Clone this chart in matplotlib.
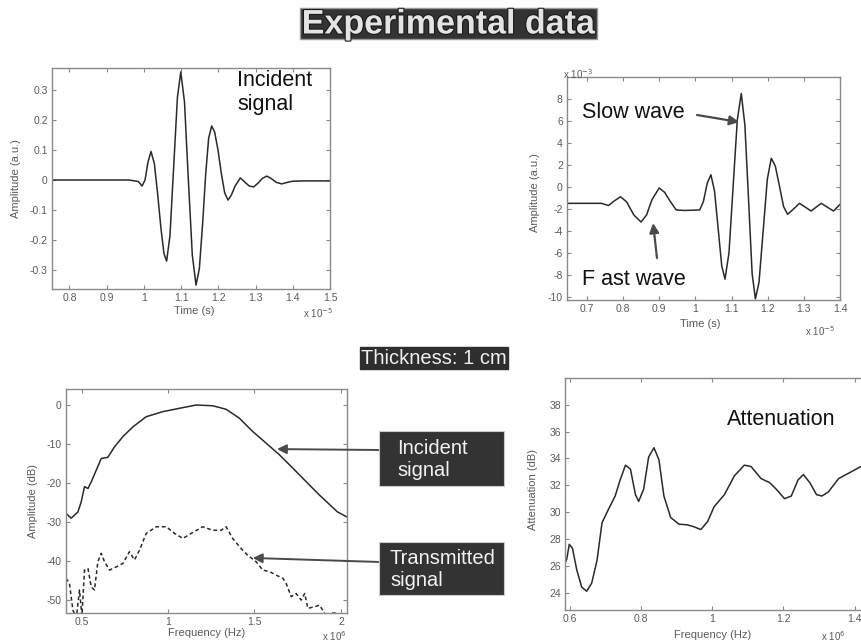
import matplotlib
matplotlib.use('Agg')
import matplotlib.pyplot as plt
import matplotlib.patheffects as pe
from matplotlib.patches import Rectangle
from matplotlib.ticker import FormatStrFormatter

plt.rcParams['font.family'] = ['Liberation Sans', 'DejaVu Sans']
plt.rcParams['axes.unicode_minus'] = False

W, H = 862, 644

# incident pulse (time in 1e-5 s, amplitude a.u.)
inc_t = [0.753, 0.96, 0.985, 0.995, 1.003, 1.011, 1.019, 1.028, 1.037, 1.046, 1.054, 1.061,
         1.07, 1.08, 1.09, 1.099, 1.109, 1.119, 1.13, 1.14, 1.149, 1.158, 1.166, 1.174, 1.182,
         1.19, 1.199, 1.208, 1.217, 1.226, 1.235, 1.245, 1.259, 1.272, 1.283, 1.295, 1.307,
         1.318, 1.33, 1.342, 1.356, 1.37, 1.385, 1.4, 1.43, 1.5]
inc_a = [0.0, 0.0, -0.005, -0.02, 0.0, 0.06, 0.095, 0.055, -0.048, -0.164, -0.246, -0.27,
         -0.185, 0.045, 0.275, 0.36, 0.26, 0.01, -0.25, -0.35, -0.295, -0.14, 0.02, 0.14, 0.18,
         0.16, 0.1, 0.022, -0.043, -0.067, -0.05, -0.02, 0.007, -0.008, -0.02, -0.023, -0.01,
         0.005, 0.013, 0.005, -0.008, -0.013, -0.008, -0.004, -0.003, -0.003]

# transmitted pulse (time in 1e-5 s, amplitude in 1e-3 a.u.)
tr_t = [0.645, 0.74, 0.76, 0.775, 0.793, 0.81, 0.83, 0.85, 0.865, 0.88, 0.90, 0.915, 0.93,
        0.947, 0.97, 1.012, 1.022, 1.033, 1.043, 1.053, 1.063, 1.073, 1.082, 1.093, 1.104,
        1.116, 1.127, 1.137, 1.147, 1.157, 1.166, 1.176, 1.188, 1.199, 1.21, 1.221, 1.233,
        1.244, 1.255, 1.272, 1.288, 1.304, 1.32, 1.334, 1.348, 1.365, 1.382, 1.4]
tr_a = [-1.5, -1.5, -1.7, -1.3, -0.9, -1.37, -2.57, -3.2, -2.56, -1.17, -0.1, -0.5, -1.3,
        -2.1, -2.15, -2.1, -1.36, 0.35, 1.1, -0.37, -3.79, -7.2, -8.4, -6.0, -0.2,
        6.1, 8.5, 5.6, -1.1, -7.9, -10.2, -8.7, -3.8, 0.7, 2.6, 1.9, 0.0,
        -1.8, -2.5, -2.0, -1.5, -1.85, -2.2, -1.85, -1.5, -1.85, -2.2, -1.6]

# spectra (frequency in 1e6 Hz, dB)
spec_f = [0.41, 0.44, 0.479, 0.498, 0.517, 0.537, 0.556, 0.585, 0.614, 0.652, 0.691, 0.739,
          0.797, 0.874, 0.97, 1.066, 1.163, 1.259, 1.336, 1.413, 1.49, 1.568, 1.645, 1.722,
          1.8, 1.876, 1.98, 2.035]
inc_db = [-27.8, -29.0, -27.4, -24.8, -20.9, -21.4, -19.7, -16.7, -13.7, -13.4, -10.7, -8.1,
          -5.6, -3.0, -1.7, -0.85, 0.0, -0.2, -1.1, -3.4, -6.8, -9.8, -12.8, -16.2,
          -19.7, -23.1, -27.4, -28.7]
tx_f = [0.41, 0.43, 0.45, 0.47, 0.488, 0.502, 0.517, 0.537, 0.556, 0.575, 0.594, 0.614, 0.633,
        0.662, 0.70, 0.739, 0.777, 0.806, 0.835, 0.874, 0.932, 0.99, 1.038, 1.086, 1.134,
        1.201, 1.259, 1.307, 1.336, 1.374, 1.423, 1.461, 1.51, 1.548, 1.587, 1.625, 1.664,
        1.683, 1.712, 1.741, 1.77, 1.79, 1.809, 1.847, 1.876, 1.895, 1.93, 1.96, 1.99, 2.035]
tx_db = [-44.4, -45.7, -52.6, -54.5, -47.4, -54.0, -42.3, -41.9, -46.6, -47.4, -40.2, -38.0,
         -40.2, -42.3, -41.5, -40.6, -37.6, -39.7, -37.2, -32.9, -31.2, -31.2, -32.9, -34.2,
         -32.9, -31.2, -32.1, -32.1, -31.2, -34.2, -36.8, -38.5, -40.2, -42.3, -42.7, -43.6,
         -44.4, -45.7, -49.1, -48.3, -50.0, -48.3, -52.1, -51.7, -51.3, -52.6, -55.0, -52.8,
         -56.0, -58.0]

# attenuation (frequency in 1e6 Hz, dB)
att_f = [0.586, 0.591, 0.598, 0.607, 0.619, 0.633, 0.647, 0.661, 0.676, 0.69, 0.708, 0.727,
         0.741, 0.756, 0.77, 0.784, 0.793, 0.807, 0.821, 0.836, 0.85, 0.864, 0.883, 0.906,
         0.93, 0.949, 0.968, 0.987, 1.005, 1.034, 1.062, 1.09, 1.109, 1.137, 1.161, 1.18,
         1.203, 1.222, 1.241, 1.256, 1.274, 1.293, 1.308, 1.326, 1.355, 1.383, 1.411, 1.425]
att_db = [26.2, 26.5, 27.6, 27.3, 25.7, 24.4, 24.1, 24.7, 26.4, 29.2, 30.2, 31.2,
          32.4, 33.5, 33.2, 31.3, 30.8, 31.7, 34.1, 34.8, 33.9, 31.2, 29.6, 29.1,
          29.05, 28.9, 28.7, 29.3, 30.4, 31.3, 32.7, 33.5, 33.4, 32.5, 32.2, 31.7,
          31.0, 31.2, 32.4, 32.8, 32.2, 31.3, 31.2, 31.5, 32.5, 32.9, 33.3, 33.5]

LINE = '#2a2a2a'
GREY = '#5a5a5a'


def box(l, t, r, b):
    return [l / W, 1 - b / H, (r - l) / W, (b - t) / H]


def fx(x, y):
    return x / W, 1 - y / H


def style(ax, xticks, yticks):
    ax.set_xticks(xticks)
    ax.set_yticks(yticks)
    ax.xaxis.set_major_formatter(FormatStrFormatter('%g'))
    ax.yaxis.set_major_formatter(FormatStrFormatter('%g'))
    ax.tick_params(direction='in', top=True, right=True, length=3, width=0.8,
                   color='#888888', labelcolor=GREY, labelsize=7.5, pad=3)
    for s in ax.spines.values():
        s.set_color('#8a8a8a')
        s.set_linewidth(1.0)


fig = plt.figure(figsize=(W / 100, H / 100), dpi=100)

# top left: incident signal
ax1 = fig.add_axes(box(52, 68, 330, 289))
ax1.plot(inc_t, inc_a, color=LINE, lw=1.1)
ax1.set_xlim(0.753, 1.5)
ax1.set_ylim(-0.363, 0.373)
style(ax1, [0.8, 0.9, 1, 1.1, 1.2, 1.3, 1.4, 1.5], [-0.3, -0.2, -0.1, 0, 0.1, 0.2, 0.3])
ax1.set_xlabel('Time (s)', fontsize=8, color=GREY)
ax1.set_ylabel('Amplitude (a.u.)', fontsize=8, color=GREY)
ax1.xaxis.set_label_coords(0.51, -0.075)
ax1.yaxis.set_label_coords(-0.11, 0.5)
fig.text(*fx(318, 313), r'x 10$^{-5}$', fontsize=7, color=GREY, ha='center', va='center')
fig.text(*fx(237, 110), 'Incident\nsignal', fontsize=15.5, color='#111111',
         ha='left', va='baseline', linespacing=1.2)

# top right: transmitted signal
ax2 = fig.add_axes(box(567, 77, 840, 300))
ax2.plot(tr_t, tr_a, color=LINE, lw=1.1)
ax2.set_xlim(0.645, 1.4)
ax2.set_ylim(-10.3, 10)
style(ax2, [0.7, 0.8, 0.9, 1, 1.1, 1.2, 1.3, 1.4], [-10, -8, -6, -4, -2, 0, 2, 4, 6, 8])
ax2.set_xlabel('Time (s)', fontsize=8, color=GREY)
ax2.set_ylabel('Amplitude (a.u.)', fontsize=8, color=GREY)
ax2.xaxis.set_label_coords(0.487, -0.085)
ax2.yaxis.set_label_coords(-0.1, 0.48)
fig.text(*fx(820, 331), r'x 10$^{-5}$', fontsize=7, color=GREY, ha='center', va='center')
fig.text(*fx(578, 74), r'x 10$^{-3}$', fontsize=7, color=GREY, ha='center', va='center')
fig.text(*fx(582, 118), 'Slow wave', fontsize=15.5, color='#111111', ha='left', va='baseline')
fig.text(*fx(582, 285), 'F ast wave', fontsize=15.5, color='#111111', ha='left', va='baseline')
arrow = dict(arrowstyle='-|>', color='#4a4a4a', lw=1.6, mutation_scale=14, shrinkA=0, shrinkB=0)
ax2.annotate('', xy=(1.121, 5.9), xytext=(697, H - 115), textcoords='figure pixels',
             arrowprops=arrow, annotation_clip=False)
ax2.annotate('', xy=(0.883, -3.3), xytext=(657, H - 258), textcoords='figure pixels',
             arrowprops=arrow, annotation_clip=False)

# thickness label and title
fig.text(*fx(434, 358), 'Thickness: 1 cm', fontsize=14.5, color='#f0f0f0', ha='center',
         va='center', bbox=dict(boxstyle='square,pad=0.06', fc='#2e2e2e', ec='#2e2e2e'))
fig.add_artist(Rectangle(fx(300, 39), (597 - 300) / W, 31 / H, transform=fig.transFigure,
                         fc='#333333', ec='#999999', lw=1))
fig.text(*fx(448, 25), 'Experimental data', fontsize=24.5, fontweight='bold', color='#e4e4e4',
         ha='center', va='center',
         path_effects=[pe.withStroke(linewidth=1.6, foreground='#1a1a1a')])

# bottom left: spectra
ax3 = fig.add_axes(box(66, 389, 347, 613))
ax3.plot(spec_f, inc_db, color=LINE, lw=1.1)
ax3.plot(tx_f, tx_db, color=LINE, lw=1.1, linestyle=(0, (2.5, 1.8)))
ax3.set_xlim(0.41, 2.035)
ax3.set_ylim(-53.3, 4.1)
style(ax3, [0.5, 1, 1.5, 2], [-50, -40, -30, -20, -10, 0])
ax3.set_xlabel('Frequency (Hz)', fontsize=8, color=GREY)
ax3.set_ylabel('Amplitude (dB)', fontsize=8, color=GREY)
ax3.xaxis.set_label_coords(0.5, -0.065)
ax3.yaxis.set_label_coords(-0.1, 0.5)
fig.text(*fx(334, 636), r'x 10$^{6}$', fontsize=7, color=GREY, ha='center', va='center')

arrow2 = dict(arrowstyle='-|>', color='#4a4a4a', lw=1.4, mutation_scale=14, shrinkA=0, shrinkB=0)
ax3.annotate('', xy=(1.63, -11.3), xytext=(380, H - 450), textcoords='figure pixels',
             arrowprops=arrow2, annotation_clip=False)
ax3.annotate('', xy=(1.49, -39.2), xytext=(380, H - 562), textcoords='figure pixels',
             arrowprops=arrow2, annotation_clip=False)

for (l, t, r, b), label, tx in [((379, 431, 504, 486), 'Incident\nsignal', 397),
                                ((379, 542, 504, 595), 'Transmitted\nsignal', 390)]:
    fig.add_artist(Rectangle(fx(l, b), (r - l) / W, (b - t) / H, transform=fig.transFigure,
                             fc='#333333', ec='#cccccc', lw=0.8))
    fig.text(*fx(tx, (t + b) / 2 + 1), label, fontsize=14.5, color='#f2f2f2',
             ha='left', va='center', linespacing=1.15)

# bottom right: attenuation
ax4 = fig.add_axes(box(565, 378, 866, 610))
ax4.plot(att_f, att_db, color=LINE, lw=1.1)
ax4.set_xlim(0.586, 1.432)
ax4.set_ylim(22.7, 40)
style(ax4, [0.6, 0.8, 1, 1.2, 1.4], [24, 26, 28, 30, 32, 34, 36, 38])
ax4.set_xlabel('Frequency (Hz)', fontsize=8, color=GREY)
ax4.set_ylabel('Attenuation (dB)', fontsize=8, color=GREY)
ax4.xaxis.set_label_coords(0.49, -0.085)
ax4.yaxis.set_label_coords(-0.09, 0.52)
fig.text(*fx(833, 636), r'x 10$^{6}$', fontsize=7, color=GREY, ha='center', va='center')
fig.text(*fx(727, 425), 'Attenuation', fontsize=15.5, color='#111111', ha='left', va='baseline')

fig.savefig('out.png', dpi=100)
